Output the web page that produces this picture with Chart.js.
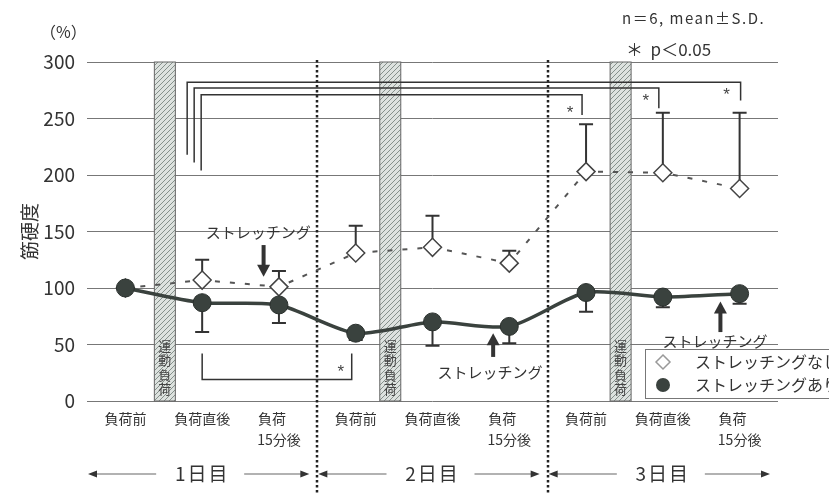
<!DOCTYPE html>
<html>
<head>
<meta charset="utf-8">
<script src="https://cdn.jsdelivr.net/npm/chart.js@4"></script>
<style>
  html, body { margin: 0; background: #fff; }
</style>
</head>
<body>
<canvas id="chart" width="829" height="495"></canvas>
<script>
// ================= DATA =================
const categories = ['負荷前', '負荷直後', ['負荷\u3000', '15分後'],
                    '負荷前', '負荷直後', ['負荷\u3000', '15分後'],
                    '負荷前', '負荷直後', ['負荷\u3000', '15分後']];
const days = ['1日目', '2日目', '3日目'];
const yTicks = [0, 50, 100, 150, 200, 250, 300];

const noStretchMean = [100, 107, 101, 131, 136, 122, 203, 202, 188];
const noStretchSD   = [0, 18, 14, 24, 28, 11, 42, 53, 67];
const stretchMean   = [100, 87, 85, 60, 70, 66, 96, 92, 95];
const stretchSD     = [0, 26, 16, 6, 21, 15, 17, 9, 9];

// ================= ANNOTATIONS =================
const JP = '"Noto Sans CJK JP", "Noto Sans", sans-serif';
const INK = '#333';

const exerciseBars = [0.514, 3.45, 6.45];       // 運動負荷 (category units)
const daySeparators = [2.5, 5.5];

// significance brackets: x in categories (+ pixel nudge), y in %
const brackets = [
  { x0: 1, dx0: -15, x1: 8, dx1: 1,  level: 282, y0: 218, y1: 266 },
  { x0: 1, dx0: -8,  x1: 7, dx1: -4, level: 277, y0: 211, y1: 259 },
  { x0: 1, dx0: -1,  x1: 6, dx1: -4, level: 271, y0: 204, y1: 253 },
  { x0: 1, dx0: 0,   x1: 3, dx1: -4, level: 19,  y0: 42,  y1: 42 }
];
const stars = [
  { x: 6, dx: -16, y: 257 },
  { x: 7, dx: -17, y: 268 },
  { x: 8, dx: -13, y: 273 },
  { x: 3, dx: -15, y: 28 }
];
const stretchMarks = [
  { x: 1.8,  from: 138, to: 110, tx: 1.73, ty: 149 },
  { x: 4.79, from: 39,  to: 60,  tx: 4.75, ty: 25 },
  { x: 7.75, from: 61,  to: 88,  tx: 7.68, ty: 53 }
];

// hatch pattern for the exercise bars
const hatchCanvas = document.createElement('canvas');
hatchCanvas.width = 5; hatchCanvas.height = 5;
(() => {
  const g = hatchCanvas.getContext('2d');
  g.fillStyle = '#dde2df';
  g.fillRect(0, 0, 5, 5);
  g.strokeStyle = '#85908b';
  g.lineWidth = 1;
  g.beginPath();
  g.moveTo(-1, 6); g.lineTo(6, -1);
  g.stroke();
})();

function arrowHead(ctx, x, y, dir, len, half) {
  ctx.beginPath();
  ctx.moveTo(x, y);
  ctx.lineTo(x - half, y - dir * len);
  ctx.lineTo(x + half, y - dir * len);
  ctx.closePath();
  ctx.fill();
}

const backgroundPlugin = {
  id: 'background',
  beforeDatasetsDraw(chart) {
    const { ctx, scales: { x, y } } = chart;
    ctx.save();
    // exercise bars
    const pat = ctx.createPattern(hatchCanvas, 'repeat');
    exerciseBars.forEach(v => {
      const cx = x.getPixelForValue(v);
      const top = y.getPixelForValue(300), bot = y.getPixelForValue(0);
      ctx.fillStyle = pat;
      ctx.fillRect(cx - 10.5, top, 21, bot - top);
      ctx.strokeStyle = '#666';
      ctx.lineWidth = 1;
      ctx.strokeRect(cx - 10.5, top, 21, bot - top);
      ctx.fillStyle = '#444';
      ctx.font = '13px ' + JP;
      ctx.textAlign = 'center';
      ctx.textBaseline = 'middle';
      ['運', '動', '負', '荷'].forEach((ch, i) => ctx.fillText(ch, cx, 346 + i * 14.5));
    });
    // day separators
    ctx.strokeStyle = '#222';
    ctx.lineWidth = 2.5;
    ctx.setLineDash([2.5, 2.5]);
    daySeparators.forEach(v => {
      const px = Math.round(x.getPixelForValue(v));
      ctx.beginPath();
      ctx.moveTo(px, y.getPixelForValue(300) - 2);
      ctx.lineTo(px, 495);
      ctx.stroke();
    });
    ctx.setLineDash([]);
    // error bars (under markers)
    ctx.strokeStyle = '#333';
    ctx.lineWidth = 2;
    const bar = (px, y0, y1) => {
      ctx.beginPath();
      ctx.moveTo(px, y0); ctx.lineTo(px, y1);
      ctx.moveTo(px - 7, y1); ctx.lineTo(px + 7, y1);
      ctx.stroke();
    };
    categories.forEach((c, i) => {
      const px = x.getPixelForValue(i);
      if (noStretchSD[i] > 0)
        bar(px, y.getPixelForValue(noStretchMean[i]), y.getPixelForValue(noStretchMean[i] + noStretchSD[i]));
      if (stretchSD[i] > 0)
        bar(px, y.getPixelForValue(stretchMean[i]), y.getPixelForValue(stretchMean[i] - stretchSD[i]));
    });
    ctx.restore();
  },
  afterDatasetsDraw(chart) {
    const { ctx, scales: { x, y } } = chart;
    ctx.save();
    // brackets
    ctx.strokeStyle = '#333';
    ctx.lineWidth = 1.5;
    brackets.forEach(b => {
      const xa = x.getPixelForValue(b.x0) + b.dx0;
      const xb = x.getPixelForValue(b.x1) + b.dx1;
      ctx.beginPath();
      ctx.moveTo(xa, y.getPixelForValue(b.y0));
      ctx.lineTo(xa, y.getPixelForValue(b.level));
      ctx.lineTo(xb, y.getPixelForValue(b.level));
      ctx.lineTo(xb, y.getPixelForValue(b.y1));
      ctx.stroke();
    });
    ctx.fillStyle = '#444';
    ctx.font = '17px "Liberation Sans", sans-serif';
    ctx.textAlign = 'center';
    ctx.textBaseline = 'middle';
    stars.forEach(s => ctx.fillText('*', x.getPixelForValue(s.x) + s.dx, y.getPixelForValue(s.y) + 3));

    // stretching arrows
    ctx.fillStyle = INK;
    ctx.strokeStyle = INK;
    stretchMarks.forEach(m => {
      const px = x.getPixelForValue(m.x);
      const pf = y.getPixelForValue(m.from), pt = y.getPixelForValue(m.to);
      const dir = pt > pf ? 1 : -1;
      ctx.lineWidth = 4;
      ctx.beginPath();
      ctx.moveTo(px, pf);
      ctx.lineTo(px, pt - dir * 10);
      ctx.stroke();
      arrowHead(ctx, px, pt, dir, 12, 6.5);
      ctx.font = '15px ' + JP;
      ctx.fillText('ストレッチング', x.getPixelForValue(m.tx), y.getPixelForValue(m.ty));
    });

    // legend
    const ds = chart.data.datasets;
    ctx.fillStyle = '#fff';
    ctx.fillRect(645, 349, 200, 49);
    ctx.strokeStyle = '#777';
    ctx.lineWidth = 1;
    ctx.strokeRect(645.5, 349.5, 200, 49);
    ctx.strokeStyle = '#999';
    ctx.lineWidth = 1.5;
    ctx.beginPath();
    ctx.moveTo(663, 355); ctx.lineTo(670, 362); ctx.lineTo(663, 369); ctx.lineTo(656, 362);
    ctx.closePath();
    ctx.stroke();
    ctx.fillStyle = '#3a423e';
    ctx.beginPath();
    ctx.arc(663, 385, 7, 0, Math.PI * 2);
    ctx.fill();
    ctx.fillStyle = INK;
    ctx.font = '16px ' + JP;
    ctx.textAlign = 'left';
    ctx.fillText(ds[1].label, 695, 362);
    ctx.fillText(ds[0].label, 695, 385);

    // texts outside plot
    ctx.font = '16px ' + JP;
    ctx.fillText('（%）', 40, 32);
    ctx.font = '15px ' + JP;
    ctx.letterSpacing = '1.5px';
    ctx.fillText('n＝6, mean±S.D.', 622, 18);
    ctx.letterSpacing = '0px';
    ctx.font = '17px ' + JP;
    ctx.fillText('＊  p＜0.05', 626, 50);

    // day rows
    ctx.font = '19px ' + JP;
    ctx.textAlign = 'center';
    ctx.letterSpacing = '2px';
    ctx.lineWidth = 1.5;
    const edges = [x.left, x.getPixelForValue(2.5), x.getPixelForValue(5.5), x.right];
    days.forEach((d, i) => {
      const a = edges[i] + 1, b = edges[i + 1] - 8;
      const mid = (edges[i] + edges[i + 1]) / 2;
      ctx.fillText(d, mid, 474);
      ctx.beginPath();
      ctx.moveTo(a + 7, 474); ctx.lineTo(mid - 46, 474);
      ctx.moveTo(mid + 42, 474); ctx.lineTo(b - 7, 474);
      ctx.stroke();
      ctx.beginPath();
      ctx.moveTo(a, 474); ctx.lineTo(a + 9, 470.5); ctx.lineTo(a + 9, 477.5); ctx.closePath();
      ctx.moveTo(b, 474); ctx.lineTo(b - 9, 470.5); ctx.lineTo(b - 9, 477.5); ctx.closePath();
      ctx.fill();
    });
    ctx.restore();
  }
};

// ================= CHART =================
const chart = new Chart(document.getElementById('chart'), {
  type: 'line',
  data: {
    labels: categories,
    datasets: [
      {
        label: 'ストレッチングあり',
        data: stretchMean,
        borderColor: '#3a423e',
        borderWidth: 3.5,
        tension: 0.25,
        pointStyle: 'circle',
        pointRadius: 9,
        pointBackgroundColor: '#3a423e',
        pointBorderColor: '#2a302d',
        pointBorderWidth: 1,
        order: 0
      },
      {
        label: 'ストレッチングなし',
        data: noStretchMean,
        borderColor: '#555',
        borderWidth: 2,
        borderDash: [5, 10],
        tension: 0,
        pointStyle: 'rectRot',
        pointRadius: 9,
        pointBackgroundColor: '#fff',
        pointBorderColor: '#444',
        pointBorderWidth: 1.5,
        order: 1
      }
    ]
  },
  options: {
    responsive: false,
    devicePixelRatio: 1,
    animation: false,
    layout: { padding: { top: 62, right: 51, left: 0, bottom: 0 } },
    plugins: {
      legend: { display: false },
      tooltip: { enabled: false }
    },
    scales: {
      x: {
        offset: true,
        grid: { display: false, offset: true },
        border: { display: false },
        ticks: {
          color: INK,
          font: { family: JP, size: 14, lineHeight: 1.45 },
          padding: 0,
          maxRotation: 0,
          autoSkip: false
        },
        afterFit: s => { s.height = 94; }
      },
      y: {
        min: 0,
        max: 300,
        afterBuildTicks: s => { s.ticks = yTicks.map(v => ({ value: v })); },
        grid: { color: '#777', lineWidth: 1, drawTicks: false },
        border: { display: false },
        ticks: {
          color: INK,
          font: { family: JP, size: 19 },
          padding: 12
        },
        title: {
          display: true,
          text: '筋硬度',
          color: INK,
          font: { family: JP, size: 19 },
          padding: { top: 18, bottom: 0 }
        },
        afterFit: s => { s.width = 87; }
      }
    }
  },
  plugins: [backgroundPlugin]
});
</script>
</body>
</html>
